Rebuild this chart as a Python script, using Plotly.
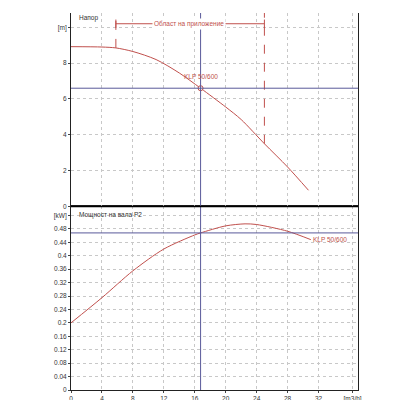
import plotly.graph_objects as go

q_head = [0, 4, 5.8, 8, 11, 14, 16.75, 20, 22, 25, 28, 30.7]
head = [8.92, 8.9, 8.85, 8.65, 8.2, 7.45, 6.6, 5.55, 4.85, 3.5, 2.2, 0.9]
q_pow = [0, 4, 8, 12, 16, 16.75, 20, 22.5, 24, 28, 31]
power = [0.2, 0.275, 0.355, 0.42, 0.462, 0.468, 0.489, 0.495, 0.493, 0.473, 0.448]
op_q, op_h, op_p = 16.75, 6.6, 0.468
range_q = [5.8, 25.0]
range_h = [8.85, 3.5]
x_ticks = [0, 4, 8, 12, 16, 20, 24, 28, 32]
h_ticks = [0, 2, 4, 6, 8]
p_ticks = [0, 0.04, 0.08, 0.12, 0.16, 0.2, 0.24, 0.28, 0.32, 0.36, 0.4, 0.44, 0.48]
pump = "KLP 50/600"

red = "#c0504d"
navy = "#5a5a9a"
fs = dict(family="Liberation Sans", size=6.5, color="#333")
fig = go.Figure()
fig.add_trace(go.Scatter(x=q_head, y=head, mode="lines", line=dict(color=red, width=1, shape="spline", smoothing=0.8), yaxis="y2"))
fig.add_trace(go.Scatter(x=q_pow, y=power, mode="lines", line=dict(color=red, width=1, shape="spline", smoothing=0.8), yaxis="y"))
fig.add_trace(go.Scatter(x=[op_q], y=[op_h], mode="markers", yaxis="y2",
                         marker=dict(size=5, color="white", line=dict(color=red, width=1))))
for q, h in zip(range_q, range_h):
    fig.add_trace(go.Scatter(x=[q, q], y=[h, 10.8], mode="lines", yaxis="y2",
                             line=dict(color=red, width=1, dash="dash")))
fig.add_trace(go.Scatter(x=range_q, y=[10.2, 10.2], mode="lines+markers", yaxis="y2",
                         line=dict(color=red, width=1),
                         marker=dict(symbol="line-ns", size=6, line=dict(color=red, width=1))))
fig.add_annotation(x=15.2, y=10.2, yref="y2", text="Област на приложение", showarrow=False,
                   font=dict(family="Liberation Sans", size=6.5, color=red), bgcolor="white")
fig.add_annotation(x=op_q, y=op_h, yref="y2", text=pump, showarrow=False, xanchor="center", yshift=12,
                   font=dict(family="Liberation Sans", size=6.5, color=red))
fig.add_annotation(x=q_pow[-1], y=power[-1], yref="y", text=pump, showarrow=False, xanchor="left",
                   font=dict(family="Liberation Sans", size=6.5, color=red))
fig.add_annotation(x=0.8, y=10.5, yref="y2", text="Напор", showarrow=False, xanchor="left", font=fs)
fig.add_annotation(x=0.8, y=0.52, yref="y", text="Мощност на вала P2", showarrow=False, xanchor="left", font=fs)
fig.add_shape(type="line", x0=op_q, x1=op_q, y0=0, y1=1, yref="paper", line=dict(color=navy, width=1))
fig.add_shape(type="line", x0=0, x1=37.1, y0=op_h, y1=op_h, yref="y2", line=dict(color=navy, width=1))
fig.add_shape(type="line", x0=0, x1=37.1, y0=op_p, y1=op_p, yref="y", line=dict(color=navy, width=1))
fig.add_shape(type="line", x0=0, x1=1, xref="paper", y0=0.487, y1=0.487, yref="paper", line=dict(color="black", width=1.5))

grid = dict(showgrid=True, gridcolor="#c8c8c8", griddash="dot", gridwidth=1, zeroline=False,
            showline=True, linecolor="#222", mirror=True, ticks="outside", ticklen=2, tickfont=fs)
fig.update_layout(
    width=400, height=400, showlegend=False, plot_bgcolor="white", paper_bgcolor="white",
    margin=dict(l=63, r=50, t=5, b=18, autoexpand=False),
    xaxis=dict(range=[0, 37.1], tickvals=x_ticks + [36.4], ticktext=[str(v) for v in x_ticks] + ["[m3/h]"], **grid),
    yaxis=dict(domain=[0, 0.487], range=[0, 0.547], tickvals=p_ticks + [0.52],
               ticktext=[f"{v:g}" for v in p_ticks] + ["[kW]"], **grid),
    yaxis2=dict(domain=[0.487, 1], range=[0, 10.8], tickvals=h_ticks + [10],
                ticktext=[str(v) for v in h_ticks] + ["[m]"], **grid),
)
fig.write_html("out.html")
